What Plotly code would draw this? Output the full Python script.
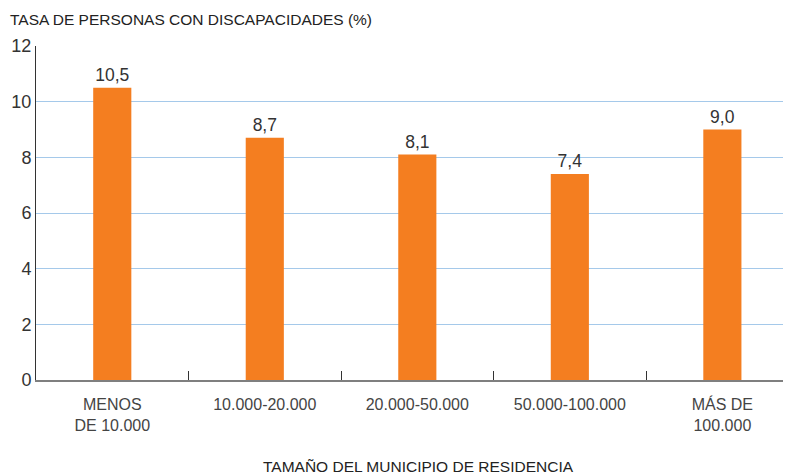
import plotly.graph_objs as go

# Datos
categorias = ['MENOS<br>DE 10.000', '10.000-20.000', '20.000-50.000',
              '50.000-100.000', 'MÁS DE<br>100.000']
tasa = [10.5, 8.7, 8.1, 7.4, 9.0]
y_ticks = [0, 2, 4, 6, 8, 10, 12]

# the page body adds an 8px margin around the figure
offset = 8
W, H = 791 - offset, 476 - offset
left, right, top, bottom = 36 - offset, 0, 46 - offset, 96
plot_w = W - left - right
plot_h = H - top - bottom

font_family = 'Liberation Sans, Arial, sans-serif'

fig = go.Figure(
    data=[
        go.Bar(
            x=categorias,
            y=tasa,
            width=0.25,
            marker={'color': '#f47e20', 'line': {'width': 0}},
            text=tasa,
            texttemplate='%{y:.1f}',
            textposition='outside',
            textfont={'size': 17.5, 'color': '#333333', 'family': font_family},
            cliponaxis=False,
        )
    ],
    layout=go.Layout(
        width=W,
        height=H,
        margin={'l': left, 'r': right, 't': top, 'b': bottom},
        paper_bgcolor='white',
        plot_bgcolor='white',
        separators=',.',
        showlegend=False,
        font={'family': font_family, 'color': '#444444'},
        xaxis={
            'range': [-0.5, 4.45],
            'showgrid': False,
            'showline': True,
            'linecolor': '#7f7f7f',
            'linewidth': 2,
            'ticks': 'inside',
            'tickson': 'boundaries',
            'ticklen': 9,
            'tickcolor': '#333333',
            'tickwidth': 1,
            'tickfont': {'size': 16, 'color': '#444444'},
            'ticklabelstandoff': 9,
            'zeroline': False,
        },
        yaxis={
            'range': [0, 12],
            'tickvals': y_ticks,
            'showgrid': True,
            'gridcolor': '#a5c9ea',
            'gridwidth': 1.2,
            'showline': True,
            'linecolor': '#333333',
            'linewidth': 1,
            'ticks': '',
            'tickfont': {'size': 18, 'color': '#333333'},
            'zeroline': False,
        },
        annotations=[
            dict(
                text='TASA DE PERSONAS CON DISCAPACIDADES (%)',
                xref='paper', yref='paper',
                x=(8 - 36) / plot_w, y=1 + (46 - 20) / plot_h,
                xanchor='left', yanchor='middle',
                showarrow=False,
                font={'size': 15.5, 'color': '#222222'},
            ),
            dict(
                text='TAMAÑO DEL MUNICIPIO DE RESIDENCIA',
                xref='paper', yref='paper',
                x=(418 - 36) / plot_w, y=-(466 - 380) / plot_h,
                xanchor='center', yanchor='middle',
                showarrow=False,
                font={'size': 15.5, 'color': '#222222'},
            ),
        ],
    )
)

fig.write_html("out.html")
